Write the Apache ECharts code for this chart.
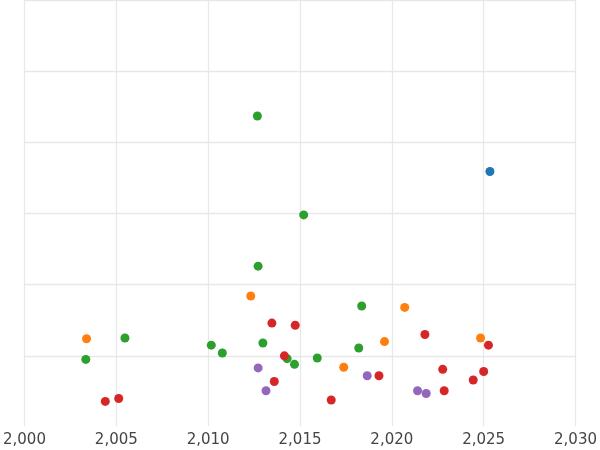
<!DOCTYPE html>
<html>
<head>
<meta charset="UTF-8">
<script src="https://cdn.jsdelivr.net/npm/echarts@6/dist/echarts.min.js"></script>
<style>html,body{margin:0;padding:0;background:#fff}</style>
</head>
<body>
<div id="main" style="width:600px;height:450px"></div>
<script>
var blueX = [2025.34], blueY = [3.59];
var orangeX = [2003.38, 2012.32, 2017.38, 2019.6, 2020.7, 2024.83];
var orangeY = [1.24, 1.84, 0.84, 1.20, 1.68, 1.25];
var greenX = [2003.34, 2005.47, 2010.17, 2010.77, 2012.68, 2012.72, 2012.98, 2014.3, 2014.7, 2015.2, 2015.94, 2018.2, 2018.36];
var greenY = [0.95, 1.25, 1.15, 1.04, 4.37, 2.26, 1.18, 0.96, 0.88, 2.98, 0.97, 1.11, 1.70];
var redX = [2004.4, 2005.13, 2013.47, 2013.6, 2014.15, 2014.74, 2016.7, 2019.3, 2021.8, 2022.77, 2022.85, 2024.43, 2025.0, 2025.26];
var redY = [0.36, 0.40, 1.46, 0.64, 1.0, 1.43, 0.38, 0.72, 1.30, 0.81, 0.51, 0.66, 0.78, 1.15];
var purpleX = [2012.72, 2013.15, 2018.66, 2021.4, 2021.87];
var purpleY = [0.83, 0.51, 0.72, 0.51, 0.47];

function pts(xs, ys) { return xs.map(function (x, i) { return [x, ys[i]]; }); }
function ser(xs, ys, c) {
    return {type: 'scatter', symbolSize: 9, itemStyle: {color: c, opacity: 1}, data: pts(xs, ys)};
}

var myChart = echarts.init(document.getElementById('main'));
// axis ranges padded to round numbers, grid pushed past the canvas edges
myChart.setOption({
    animation: false,
    grid: {left: -32.4, right: -73, top: -42, bottom: 23},
    xAxis: {
        type: 'value', min: 2000, max: 2030, interval: 5,
        axisLine: {show: true, lineStyle: {color: '#fff', width: 3}}, axisTick: {show: false},
        axisLabel: {color: '#444', fontSize: 15, fontFamily: 'DejaVu Sans', margin: 6},
        splitLine: {lineStyle: {color: '#e8e8e8', width: 1.3}}
    },
    yAxis: {
        type: 'value', min: 0, max: 6, interval: 1,
        axisLine: {show: false}, axisTick: {show: false}, axisLabel: {show: false},
        splitLine: {lineStyle: {color: '#e8e8e8', width: 1.3}}
    },
    series: [
        ser(blueX, blueY, '#1f77b4'),
        ser(orangeX, orangeY, '#ff7f0e'),
        ser(greenX, greenY, '#2ca02c'),
        ser(redX, redY, '#d62728'),
        ser(purpleX, purpleY, '#9467bd')
    ]
});
</script>
</body>
</html>
